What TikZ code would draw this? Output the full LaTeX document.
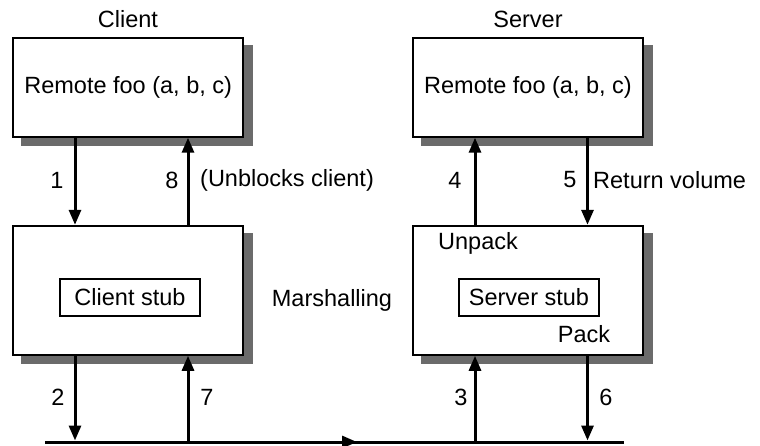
\documentclass[tikz,border=0pt]{standalone}
\usepackage{fontspec}
\setmainfont{Liberation Sans}
\usetikzlibrary{arrows.meta}
\begin{document}
\begin{tikzpicture}[x=1pt,y=-1pt,
  font=\fontsize{23.5}{28}\selectfont,
  box/.style={draw=black, line width=2pt, fill=white, inner sep=0pt,
    minimum width=230pt},
  topbox/.style={box, minimum height=99pt},
  stubbox/.style={box, minimum height=129pt},
  dropfill/.style={color=black!58},
  inner/.style={draw=black, line width=1.5pt, fill=white, minimum width=140pt,
    minimum height=37pt, inner sep=0pt},
  arr/.style={line width=3pt, -{Triangle[length=15pt,width=12pt]}},
  lbl/.style={inner sep=0pt}]
\useasboundingbox (0,0) rectangle (760,446);

% drop shadows, drawn first so the boxes sit on top of them
\fill[dropfill] (21.2,44.7) rectangle (253.2,145.7);
\fill[dropfill] (421,44.7) rectangle (653,145.7);
\fill[dropfill] (21.2,232.8) rectangle (253.2,363.8);
\fill[dropfill] (421,232.8) rectangle (653,363.8);

% headings
\node[lbl] (clientlbl) at (128,19) {Client};
\node[lbl] (serverlbl) at (528,19) {Server};

% procedure boxes
\node[topbox] (cr) at (128.2,87.2) {Remote foo (a, b, c)};
\node[topbox] (sr) at (528,87.2) {Remote foo (a, b, c)};

% stub boxes
\node[stubbox] (cs) at (128.2,290.3) {};
\node[stubbox] (ss) at (528,290.3) {};
\node[inner] (csin) at (130,297.5) {Client stub};
\node[inner] (ssin) at (529,297.5) {Server stub};
\node[lbl] (unpack) at (478,243) {Unpack};
\node[lbl] (pack) at (584,334) {Pack};
\node[lbl] (marsh) at (332,300) {Marshalling};

% arrow columns and the network line
\coordinate (x1) at (75,0);
\coordinate (x8) at (188,0);
\coordinate (x4) at (475,0);
\coordinate (x5) at (587.5,0);
\coordinate (busL) at (45,442);
\coordinate (busM) at (357,442);
\coordinate (busR) at (624,442);

\draw[line width=3pt] (busL) -- (busR);
\draw[arr] (busL) -- (busM);

% client side
\draw[arr] (cr.south -| x1) -- (cs.north -| x1);
\draw[arr] (cs.north -| x8) -- (cr.south -| x8);
\draw[arr] (cs.south -| x1) -- ([yshift=1.5pt]busL -| x1);
\draw[arr] (busL -| x8) -- (cs.south -| x8);

% server side
\draw[arr] (ss.north -| x4) -- (sr.south -| x4);
\draw[arr] (sr.south -| x5) -- (ss.north -| x5);
\draw[arr] (busL -| x4) -- (ss.south -| x4);
\draw[arr] (ss.south -| x5) -- ([yshift=1.5pt]busL -| x5);

% step labels
\node[lbl] (n1) at (57,180) {1};
\node[lbl] (n8) at (172,180) {8};
\node[lbl,anchor=west] (unblock) at (200,180) {(Unblocks client)};
\node[lbl] (n4) at (455,180) {4};
\node[lbl] (n5) at (570,180) {5};
\node[lbl,anchor=west] (retvol) at (593,180) {Return volume};
\node[lbl] (n2) at (58,397) {2};
\node[lbl] (n7) at (207,397) {7};
\node[lbl] (n3) at (461,397) {3};
\node[lbl] (n6) at (606,397) {6};
\end{tikzpicture}
\end{document}
